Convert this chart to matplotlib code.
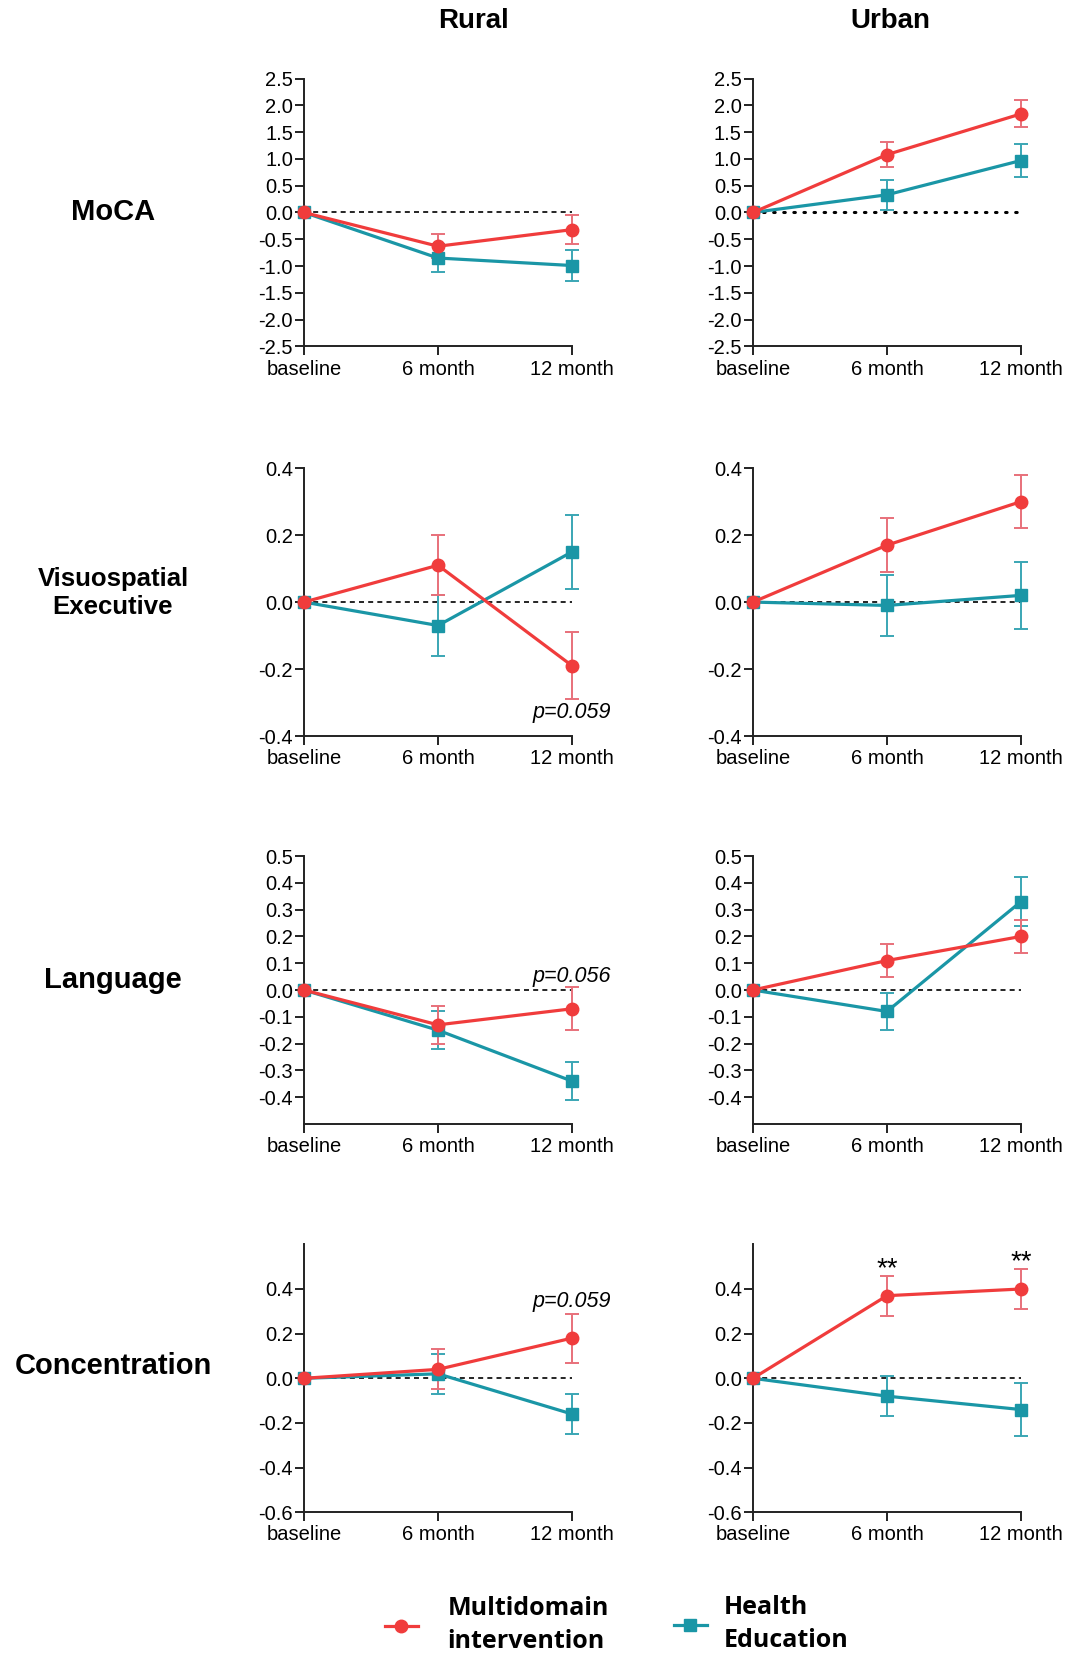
import numpy as np
import matplotlib
matplotlib.use("Agg")
import matplotlib.pyplot as plt
from matplotlib.lines import Line2D

plt.rcParams['font.family'] = ['Liberation Sans', 'DejaVu Sans']
plt.rcParams['axes.unicode_minus'] = False

RED = '#F03C3C'
RED_ERR = '#E8707A'
TEAL = '#1A96A6'
TEAL_ERR = '#3AA6B4'

timepoints = ['baseline', '6 month', '12 month']
columns = ['Rural', 'Urban']
outcomes = ['MoCA', 'Visuospatial\nExecutive', 'Language', 'Concentration']

# mean change from baseline and error, per outcome (rural, urban)
rural_moca_mi = [0, -0.63, -0.32]
rural_moca_mi_err = [0, 0.22, 0.27]
rural_moca_he = [0, -0.85, -0.99]
rural_moca_he_err = [0, 0.26, 0.29]
urban_moca_mi = [0, 1.08, 1.84]
urban_moca_mi_err = [0, 0.24, 0.25]
urban_moca_he = [0, 0.33, 0.97]
urban_moca_he_err = [0, 0.28, 0.30]

rural_vis_mi = [0, 0.11, -0.19]
rural_vis_mi_err = [0, 0.09, 0.10]
rural_vis_he = [0, -0.07, 0.15]
rural_vis_he_err = [0, 0.09, 0.11]
urban_vis_mi = [0, 0.17, 0.30]
urban_vis_mi_err = [0, 0.08, 0.08]
urban_vis_he = [0, -0.01, 0.02]
urban_vis_he_err = [0, 0.09, 0.10]

rural_lang_mi = [0, -0.13, -0.07]
rural_lang_mi_err = [0, 0.07, 0.08]
rural_lang_he = [0, -0.15, -0.34]
rural_lang_he_err = [0, 0.07, 0.07]
urban_lang_mi = [0, 0.11, 0.20]
urban_lang_mi_err = [0, 0.06, 0.06]
urban_lang_he = [0, -0.08, 0.33]
urban_lang_he_err = [0, 0.07, 0.09]

rural_conc_mi = [0, 0.04, 0.18]
rural_conc_mi_err = [0, 0.09, 0.11]
rural_conc_he = [0, 0.02, -0.16]
rural_conc_he_err = [0, 0.09, 0.09]
urban_conc_mi = [0, 0.37, 0.40]
urban_conc_mi_err = [0, 0.09, 0.09]
urban_conc_he = [0, -0.08, -0.14]
urban_conc_he_err = [0, 0.09, 0.12]

panels = [
    [(rural_moca_mi, rural_moca_mi_err, rural_moca_he, rural_moca_he_err),
     (urban_moca_mi, urban_moca_mi_err, urban_moca_he, urban_moca_he_err)],
    [(rural_vis_mi, rural_vis_mi_err, rural_vis_he, rural_vis_he_err),
     (urban_vis_mi, urban_vis_mi_err, urban_vis_he, urban_vis_he_err)],
    [(rural_lang_mi, rural_lang_mi_err, rural_lang_he, rural_lang_he_err),
     (urban_lang_mi, urban_lang_mi_err, urban_lang_he, urban_lang_he_err)],
    [(rural_conc_mi, rural_conc_mi_err, rural_conc_he, rural_conc_he_err),
     (urban_conc_mi, urban_conc_mi_err, urban_conc_he, urban_conc_he_err)],
]

y_limits = [(-2.5, 2.5), (-0.4, 0.4), (-0.5, 0.5), (-0.6, 0.6)]
y_ticks = [
    [-2.5, -2.0, -1.5, -1.0, -0.5, 0.0, 0.5, 1.0, 1.5, 2.0, 2.5],
    [-0.4, -0.2, 0.0, 0.2, 0.4],
    [-0.4, -0.3, -0.2, -0.1, 0.0, 0.1, 0.2, 0.3, 0.4, 0.5],
    [-0.6, -0.4, -0.2, 0.0, 0.2, 0.4],
]

# p-value notes: (row, col) -> (text, timepoint index, y)
p_notes = {(1, 0): ('p=0.059', 2, -0.33),
           (2, 0): ('p=0.056', 2, 0.05),
           (3, 0): ('p=0.059', 2, 0.345)}
# significance stars: (row, col) -> list of (timepoint index, y)
star_notes = {(3, 1): [(1, 0.49), (2, 0.52)]}

# axes layout in figure fraction
col_left = [0.2841, 0.7037]
ax_width = 0.2505
row_bottom = [0.7913, 0.5566, 0.3229, 0.0890]
ax_height = 0.1614

fig = plt.figure(figsize=(10.7, 16.6), dpi=100)
x = np.arange(len(timepoints))

for r in range(4):
    for c in range(2):
        ax = fig.add_axes([col_left[c], row_bottom[r], ax_width, ax_height])
        mi, mi_err, he, he_err = [np.array(v, dtype=float) for v in panels[r][c]]

        if r == 0 and c == 1:
            ax.axhline(0, color='black', lw=2.2, ls=(0, (0.5, 2.8)),
                       dash_capstyle='round', zorder=1)
        else:
            ax.axhline(0, color='black', lw=1.2, ls=(0, (3, 2.5)), zorder=1)

        # error bars (not at baseline)
        ax.errorbar(x[1:], he[1:], yerr=he_err[1:], fmt='none', ecolor=TEAL_ERR,
                    elinewidth=1.4, capsize=5, capthick=1.4, zorder=2, clip_on=False)
        ax.errorbar(x[1:], mi[1:], yerr=mi_err[1:], fmt='none', ecolor=RED_ERR,
                    elinewidth=1.4, capsize=5, capthick=1.4, zorder=3, clip_on=False)
        ax.plot(x, he, color=TEAL, lw=2.3, marker='s', ms=8, zorder=4, clip_on=False)
        ax.plot(x, mi, color=RED, lw=2.3, marker='o', ms=9, zorder=5, clip_on=False)

        ax.set_xlim(0, 2)
        ax.set_ylim(*y_limits[r])
        ax.set_yticks(y_ticks[r])
        ax.set_yticklabels([f"{t:.1f}" for t in y_ticks[r]])
        ax.set_xticks(x)
        ax.set_xticklabels(timepoints)
        for side in ['top', 'right']:
            ax.spines[side].set_visible(False)
        for side in ['left', 'bottom']:
            ax.spines[side].set_linewidth(1.4)
            ax.spines[side].set_color('#222222')
        ax.tick_params(axis='both', length=6.5, width=1.4, color='#222222',
                       labelsize=14.5, pad=1.5)
        ax.tick_params(axis='x', pad=3)
        ax.set_facecolor('none')

        if (r, c) in p_notes:
            txt, xi, yv = p_notes[(r, c)]
            ax.text(x[xi], yv, txt, fontsize=15.5, style='italic',
                    ha='center', va='center', clip_on=False)
        for xi, yv in star_notes.get((r, c), []):
            ax.text(x[xi], yv, '**', fontsize=20, ha='center', va='center',
                    clip_on=False)

# column titles
col_title_x = [474 / 1070, 890 / 1070]
for c, name in enumerate(columns):
    fig.text(col_title_x[c], 1 - 21 / 1660, name, ha='center', va='center',
             fontsize=20, fontweight='bold',
             family=['Liberation Sans Narrow', 'Liberation Sans'])

# row labels
row_label_y = [212, 593, 980, 1366]
row_label_size = [21, 18.5, 21, 21]
for r, name in enumerate(outcomes):
    fig.text(113 / 1070, 1 - row_label_y[r] / 1660, name, ha='center', va='center',
             fontsize=row_label_size[r], fontweight='bold', linespacing=1.25)

# legend
h_mi = Line2D([], [], color=RED, lw=2.3, marker='o', ms=9)
h_he = Line2D([], [], color=TEAL, lw=2.3, marker='s', ms=8)
leg_font = {'family': 'Open Sans', 'weight': 'bold', 'size': 18}
leg1 = fig.legend([h_mi], ['Multidomain\nintervention'], loc='center left',
                  bbox_to_anchor=(385 / 1070, 1 - 1625 / 1660), frameon=False,
                  handlelength=1.3, handletextpad=1.2, prop=leg_font, borderpad=0,
                  borderaxespad=0)
leg2 = fig.legend([h_he], ['Health\nEducation'], loc='center left',
                  bbox_to_anchor=(674 / 1070, 1 - 1624 / 1660), frameon=False,
                  handlelength=1.3, handletextpad=0.7, prop=leg_font, borderpad=0,
                  borderaxespad=0)
for leg in (leg1, leg2):
    for t in leg.get_texts():
        t.set_linespacing(1.45)

fig.savefig('out.png', dpi=100, facecolor='white')
